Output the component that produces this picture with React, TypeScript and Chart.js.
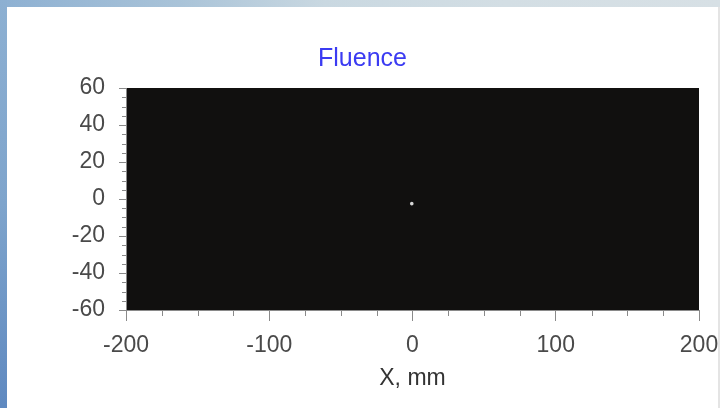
import React, { useEffect, useRef } from "react";
import { Chart, registerables } from "chart.js";

Chart.register(...registerables);

// ---- data / labels ----
const TITLE = "Fluence";
const X_LABEL = "X, mm";
const X_MIN = -200;
const X_MAX = 200;
const X_STEP = 100;
const Y_MIN = -60;
const Y_MAX = 60;
const Y_STEP = 20;
const xMinorTicks = [-175, -150, -125, -75, -50, -25, 25, 50, 75, 125, 150, 175];
const yMinorTicks = [-55, -50, -45, -35, -30, -25, -15, -10, -5, 5, 10, 15, 25, 30, 35, 45, 50, 55];
const spotX = [-0.5];
const spotY = [-2.5];

const FONT = "'Liberation Sans', Arial, Helvetica, sans-serif";
const PLOT_BG = "#11100f";
const AXIS_COLOR = "#8a8a8a";
const LABEL_COLOR = "#4a4a4a";

const plotBgPlugin = {
  id: "plotBg",
  beforeDraw(chart: any) {
    const { ctx, chartArea } = chart;
    const { left, top, width, height } = chartArea;
    ctx.save();
    ctx.fillStyle = PLOT_BG;
    ctx.fillRect(left, top, width, height);
    ctx.restore();
  },
};

const minorTickPlugin = {
  id: "minorTicks",
  afterDraw(chart: any) {
    const { ctx, chartArea } = chart;
    const xs = chart.scales.x;
    const ys = chart.scales.y;
    ctx.save();
    ctx.strokeStyle = AXIS_COLOR;
    ctx.lineWidth = 1;
    ctx.beginPath();
    xMinorTicks.forEach((v) => {
      const px = Math.round(xs.getPixelForValue(v)) + 0.5;
      ctx.moveTo(px, chartArea.bottom);
      ctx.lineTo(px, chartArea.bottom + 6);
    });
    yMinorTicks.forEach((v) => {
      const py = Math.round(ys.getPixelForValue(v)) + 0.5;
      ctx.moveTo(chartArea.left - 4, py);
      ctx.lineTo(chartArea.left, py);
    });
    ctx.stroke();
    ctx.restore();
  },
};

function FluenceChart() {
  const ref = useRef<HTMLCanvasElement | null>(null);

  useEffect(() => {
    if (!ref.current) return;
    const chart = new Chart(ref.current, {
      type: "scatter",
      data: {
        datasets: [
          {
            data: spotX.map((x, i) => ({ x, y: spotY[i] })),
            pointRadius: 1.8,
            pointBackgroundColor: "#d6d6d6",
            pointBorderWidth: 0,
          },
        ],
      },
      options: {
        animation: false,
        responsive: false,
        layout: { padding: 0 },
        plugins: {
          legend: { display: false },
          tooltip: { enabled: false },
          title: {
            display: true,
            text: TITLE,
            color: "#3b3bf2",
            font: { family: FONT, size: 25, weight: "normal" },
            padding: { top: 37, bottom: 14 },
          },
        },
        scales: {
          x: {
            type: "linear",
            min: X_MIN,
            max: X_MAX,
            ticks: {
              stepSize: X_STEP,
              color: LABEL_COLOR,
              font: { family: FONT, size: 23 },
              padding: 11,
              maxRotation: 0,
            },
            grid: {
              drawOnChartArea: false,
              drawTicks: true,
              tickLength: 11,
              tickColor: AXIS_COLOR,
              color: AXIS_COLOR,
            },
            border: { display: true, color: AXIS_COLOR },
            title: {
              display: true,
              text: X_LABEL,
              color: "#333",
              font: { family: FONT, size: 23 },
              padding: { top: 0, bottom: 16 },
            },
            afterFit(s: any) {
              s.height = 98;
              s.paddingLeft = 0;
              s.paddingRight = 19;
            },
          },
          y: {
            type: "linear",
            min: Y_MIN,
            max: Y_MAX,
            ticks: {
              stepSize: Y_STEP,
              color: LABEL_COLOR,
              font: { family: FONT, size: 23 },
              padding: 14,
            },
            grid: {
              drawOnChartArea: false,
              drawTicks: true,
              tickLength: 7,
              tickColor: AXIS_COLOR,
              color: AXIS_COLOR,
            },
            border: { display: true, color: AXIS_COLOR },
            afterFit(s: any) {
              s.width = 119;
              s.paddingTop = 0;
              s.paddingBottom = 0;
            },
          },
        },
      } as any,
      plugins: [plotBgPlugin, minorTickPlugin],
    });
    return () => chart.destroy();
  }, []);

  return <canvas ref={ref} width={711} height={401} style={{ display: "block" }} />;
}

export default function App() {
  return (
    <div
      style={{
        position: "fixed",
        left: 0,
        top: 0,
        width: 720,
        height: 408,
        overflow: "hidden",
        background: "#ffffff",
      }}
    >
      <div
        style={{
          position: "absolute",
          left: 0,
          top: 0,
          width: 720,
          height: 7,
          background:
            "linear-gradient(90deg, #8db0d2 0%, #a9c3d8 25%, #c9d8e1 45%, #d3dee4 70%, #d7e0e5 100%)",
        }}
      />
      <div
        style={{
          position: "absolute",
          left: 0,
          top: 0,
          width: 7,
          height: 408,
          background: "linear-gradient(180deg, #8db0d2 0%, #7ea4cc 50%, #5f89c0 100%)",
        }}
      />
      <div
        style={{
          position: "absolute",
          left: 718,
          top: 7,
          width: 2,
          height: 401,
          background: "#e4e4e4",
        }}
      />
      <div style={{ position: "absolute", left: 7, top: 7, width: 711, height: 401 }}>
        <FluenceChart />
      </div>
    </div>
  );
}
